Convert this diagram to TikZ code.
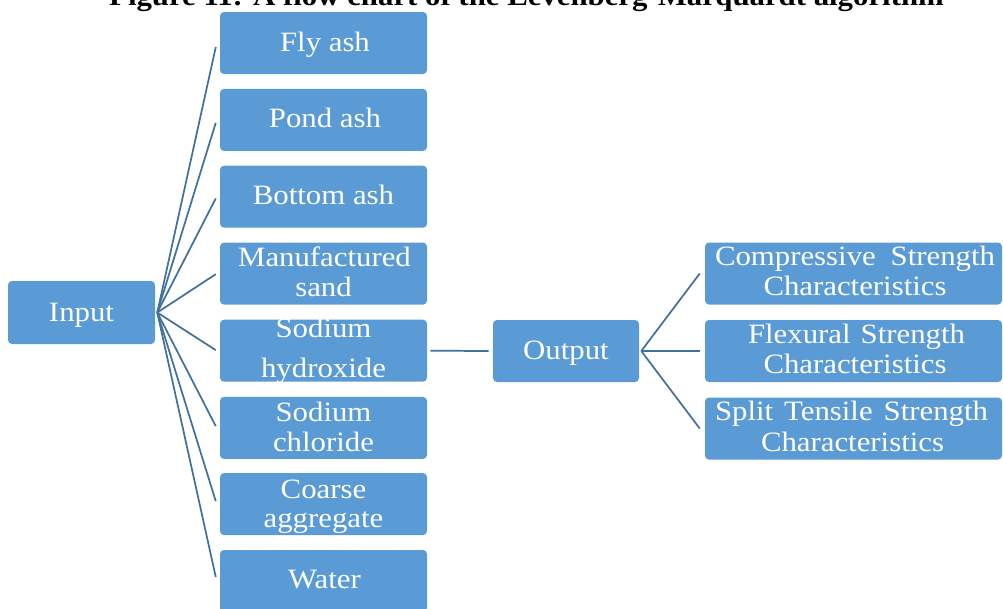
\documentclass[tikz,border=0pt]{standalone}
\usepackage{fontspec}
\setmainfont{Liberation Serif}[FakeStretch=1.1]
\usetikzlibrary{calc}
\definecolor{boxblue}{HTML}{5B9BD5}
\definecolor{linkblue}{HTML}{41719C}
\tikzset{
  box/.style={shape=rectangle, fill=boxblue, draw=none, rounded corners=3pt,
              inner sep=0pt, minimum width=155.25pt, minimum height=46.5pt},
  inbox/.style={box, minimum width=110.25pt, minimum height=47.25pt},
  outbox/.style={box, minimum width=109.5pt},
  widebox/.style={box, minimum width=222.75pt},
  lbl/.style={text=white, inner sep=0pt, anchor=base,
              font=\fontsize{21}{22.5}\selectfont},
  link/.style={draw=linkblue, line width=1.3pt},
  caption/.style={inner sep=0pt, anchor=base,
                  font=\fontsize{21}{22.5}\selectfont\bfseries}
}
\begin{document}
\begin{tikzpicture}[x=0.75pt, y=-0.75pt]
  \useasboundingbox (0,0) rectangle (1003,608);
  \clip (0,0) rectangle (1003,608);

  % figure caption, running off the top edge
  \node[caption] (cap) at (526.5,5) {Figure 11: A flow chart of the Levenberg-Marquardt algorithm};

  % input and the eight ingredient boxes
  \node[inbox] (input) at (81.5,312.5) {};
  \node[box] (fly)    at (323.5,43)    {};
  \node[box] (pond)   at (323.5,119.9) {};
  \node[box] (bottom) at (323.5,196.7) {};
  \node[box] (manuf)  at (323.5,273.6) {};
  \node[box] (hydro)  at (323.5,350.7) {};
  \node[box] (chlor)  at (323.5,427.9) {};
  \node[box] (coarse) at (323.5,504.1) {};
  \node[box] (water)  at (323.5,581)   {};

  % output and the three strength boxes
  \node[outbox]  (output) at (566,351)     {};
  \node[widebox] (comp)   at (853.5,273.5) {};
  \node[widebox] (flex)   at (853.5,351)   {};
  \node[widebox] (split)  at (853.5,428.5) {};

  % labels
  \node[lbl] (inputT)  at ($(input.center)+(0,9)$)   {Input};
  \node[lbl] (flyT)    at ($(fly.center)+(1.5,8)$)   {Fly ash};
  \node[lbl] (pondT)   at ($(pond.center)+(1.5,8)$)  {Pond ash};
  \node[lbl] (bottomT) at ($(bottom.center)+(0,8)$)  {Bottom ash};
  \node[lbl] (manufA)  at ($(manuf.center)+(1,-7)$)  {Manufactured};
  \node[lbl] (manufB)  at ($(manuf.center)+(0,23)$)  {sand};
  \node[lbl] (hydroA)  at ($(hydro.center)+(0,-13)$) {Sodium};
  \node[lbl] (hydroB)  at ($(hydro.center)+(0,27)$)  {hydroxide};
  \node[lbl] (chlorA)  at ($(chlor.center)+(0,-6)$)  {Sodium};
  \node[lbl] (chlorB)  at ($(chlor.center)+(0,24)$)  {chloride};
  \node[lbl] (coarseA) at ($(coarse.center)+(0,-6)$) {Coarse};
  \node[lbl] (coarseB) at ($(coarse.center)+(0,23)$) {aggregate};
  \node[lbl] (waterT)  at ($(water.center)+(1,7)$)   {Water};
  \node[lbl] (outputT) at ($(output.center)+(0,8)$)  {Output};
  \node[lbl] (compA)   at ($(comp.center)+(1.5,-8.5)$) {\makebox[210pt][s]{Compressive Strength}};
  \node[lbl] (compB)   at ($(comp.center)+(1.5,21.5)$) {Characteristics};
  \node[lbl] (flexA)   at ($(flex.center)+(3,-8)$)     {\makebox[162.75pt][s]{Flexural Strength}};
  \node[lbl] (flexB)   at ($(flex.center)+(1.5,22)$)   {Characteristics};
  \node[lbl] (splitA)  at ($(split.center)+(-2,-8.5)$) {\makebox[204.75pt][s]{Split Tensile Strength}};
  \node[lbl] (splitB)  at ($(split.center)+(-1,22.5)$) {Characteristics};

  % fan of connectors from the input
  \foreach \b in {fly,pond,bottom,manuf,hydro,chlor,coarse,water}
    \draw[link] ($(input.east)+(2,0)$) -- ($(\b.west)!0.015!(input.east)+(-3,0)$);

  % ingredient to output, and output to the strength boxes
  \draw[link] ($(hydro.east)+(3,0)$) -- ($(output.west)+(-4,0)$);
  \foreach \b in {comp,flex,split}
    \draw[link] ($(output.east)+(2,0)$) -- ($(\b.west)+(-5,0)$);
\end{tikzpicture}
\end{document}
